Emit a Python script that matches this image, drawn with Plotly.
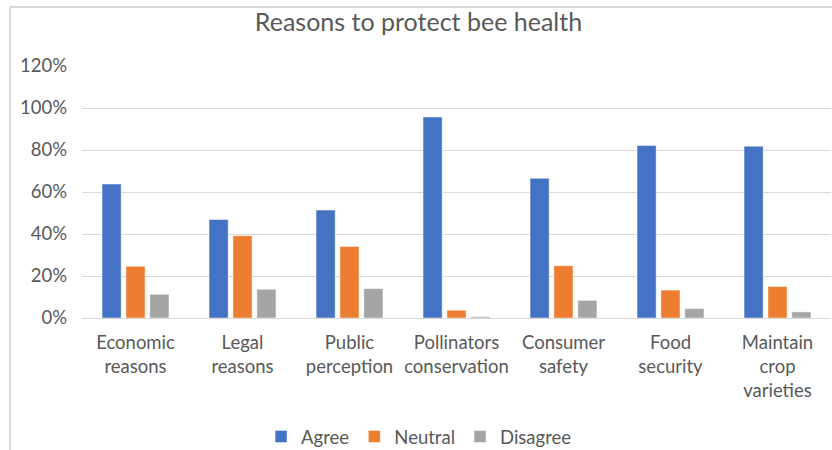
import plotly.graph_objects as go

categories = [
    "Economic<br>reasons",
    "Legal<br>reasons",
    "Public<br>perception",
    "Pollinators<br>conservation",
    "Consumer<br>safety",
    "Food<br>security",
    "Maintain<br>crop<br>varieties",
]
agree = [0.638, 0.469, 0.514, 0.957, 0.665, 0.821, 0.818]
neutral = [0.246, 0.392, 0.341, 0.037, 0.249, 0.133, 0.150]
disagree = [0.113, 0.137, 0.140, 0.006, 0.084, 0.045, 0.029]

series = [
    ("Agree", agree, "#4472C4"),
    ("Neutral", neutral, "#ED7D31"),
    ("Disagree", disagree, "#A5A5A5"),
]

FONT = "Lato"
TEXT = "#595959"
LABEL_SIZE = 18.5

fig = go.Figure()
for name, vals, color in series:
    fig.add_trace(go.Bar(
        name=name, x=categories, y=vals,
        marker=dict(color=color, line=dict(color="rgba(255,255,255,0.6)", width=0.8)),
    ))

fig.update_layout(
    width=832, height=450,
    margin=dict(l=82, r=1, t=66, b=132, autoexpand=False),
    paper_bgcolor="white", plot_bgcolor="white",
    barmode="group", bargap=0.33, bargroupgap=0.2,
    font=dict(family=FONT, color=TEXT, size=LABEL_SIZE),
    title=dict(text="Reasons to protect bee health", x=0.503, xanchor="center",
               y=0.95, yanchor="middle", font=dict(family=FONT, size=25, color=TEXT)),
    showlegend=True,
    legend=dict(orientation="h", x=0.45, xanchor="center", y=-0.472, yanchor="middle",
                font=dict(family=FONT, size=LABEL_SIZE, color=TEXT), itemwidth=30,
                traceorder="normal"),
    xaxis=dict(showgrid=False, showline=True, linecolor="#d9d9d9", linewidth=1,
               ticks="", ticklabelstandoff=8, automargin=False,
               tickfont=dict(family=FONT, size=LABEL_SIZE, color=TEXT)),
    yaxis=dict(range=[0, 1.2], dtick=0.2, tickformat=".0%", showgrid=True,
               gridcolor="#d9d9d9", gridwidth=1, zeroline=False, showline=False,
               ticks="", ticklabelstandoff=14, automargin=False,
               tickfont=dict(family=FONT, size=LABEL_SIZE, color=TEXT)),
    shapes=[
        # chart-area frame (left and top edges)
        dict(type="line", xref="paper", yref="paper", x0=-0.0961, x1=-0.0961,
             y0=1.234, y1=-0.55, line=dict(color="#d9d9d9", width=2)),
        dict(type="line", xref="paper", yref="paper", x0=-0.0961, x1=1.01,
             y0=1.234, y1=1.234, line=dict(color="#d9d9d9", width=2)),
    ],
)

fig.write_html("out.html")
